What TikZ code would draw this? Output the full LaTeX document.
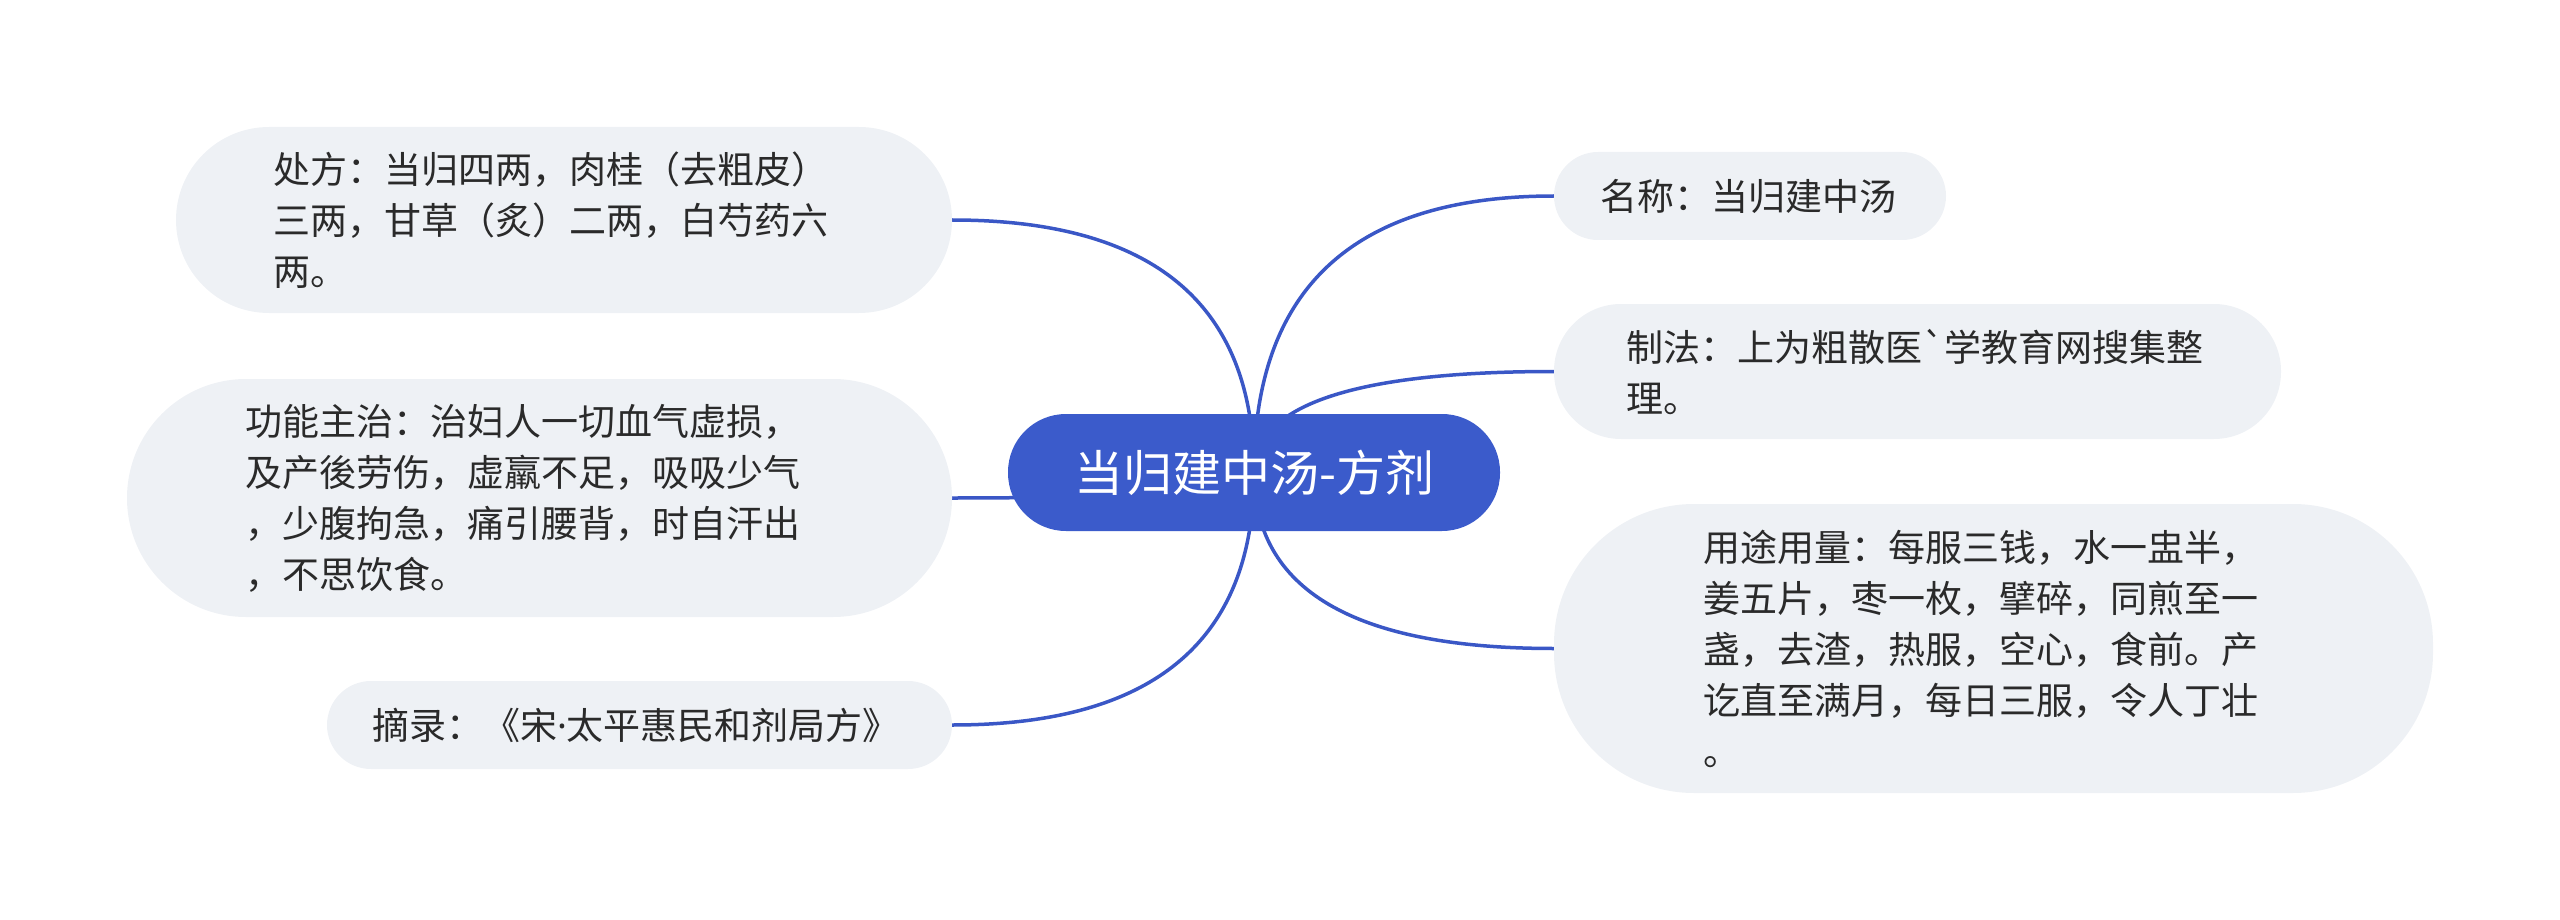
\documentclass[tikz,border=0pt]{standalone}
\usepackage{fontspec}
\newfontfamily\cjk{Noto Sans CJK SC}
\newfontfamily\latinf{Noto Sans}
\usetikzlibrary{calc}
\definecolor{mainblue}{HTML}{3B5BCB}
\definecolor{linkblue}{HTML}{3A57C6}
\definecolor{boxgray}{HTML}{EEF1F5}
\definecolor{txt}{HTML}{2A2A2A}
\pgfdeclarelayer{bg}
\pgfsetlayers{bg,main}
\begin{document}
\begin{tikzpicture}[x=1pt,y=-1pt,
  topic/.style={rectangle, fill=boxgray, text=txt, align=left, inner sep=0pt,
    font=\cjk\fontsize{37}{51}\selectfont},
  root/.style={rectangle, fill=mainblue, text=white, inner sep=0pt, align=center,
    font=\cjk\fontsize{49}{58}\selectfont},
  link/.style={draw=linkblue, line width=3.5pt}]
\useasboundingbox (0,0) rectangle (2560,920);

\node[root, minimum width=492pt, minimum height=117pt, rounded corners=58pt] (root) at (1254,472.5) {当归建中汤-方剂};

\node[topic, minimum width=776pt, minimum height=186pt, rounded corners=93pt, text width=582pt] (chufang) at (564,220)
  {处方：当归四两，肉桂（去粗皮）\\三两，甘草（炙）二两，白芍药六\\两。};
\node[topic, minimum width=825pt, minimum height=238pt, rounded corners=119pt, text width=589pt] (gongneng) at (539.5,498)
  {功能主治：治妇人一切血气虚损，\\及产後劳伤，虚羸不足，吸吸少气\\，少腹拘急，痛引腰背，时自汗出\\，不思饮食。};
\node[topic, minimum width=625pt, minimum height=88pt, rounded corners=44pt, text width=535pt] (zhailu) at (639.5,725)
  {摘录：《宋{\latinf ·}太平惠民和剂局方》};

\node[topic, minimum width=392pt, minimum height=88pt, rounded corners=44pt, text width=300pt] (mingcheng) at (1750,196)
  {名称：当归建中汤};
\node[topic, minimum width=727pt, minimum height=135pt, rounded corners=67pt, text width=583pt] (zhifa) at (1917.5,371.5)
  {制法：上为粗散医`学教育网搜集整\\理。};
\node[topic, minimum width=879pt, minimum height=289pt, rounded corners=140pt, text width=581pt] (yongtu) at (1993.5,648.5)
  {用途用量：每服三钱，水一盅半，\\姜五片，枣一枚，擘碎，同煎至一\\盏，去渣，热服，空心，食前。产\\讫直至满月，每日三服，令人丁壮\\。};

\begin{pgfonlayer}{bg}
\foreach \n/\a in {chufang/east, gongneng/east, zhailu/east, mingcheng/west, zhifa/west, yongtu/west}
  \draw[link] (root.center) .. controls ($(root.center)!0.6667!(root.center|-\n.\a)$)
    and ($(\n.\a)!0.6667!(root.center|-\n.\a)$) .. (\n.\a);
\end{pgfonlayer}
\end{tikzpicture}
\end{document}
